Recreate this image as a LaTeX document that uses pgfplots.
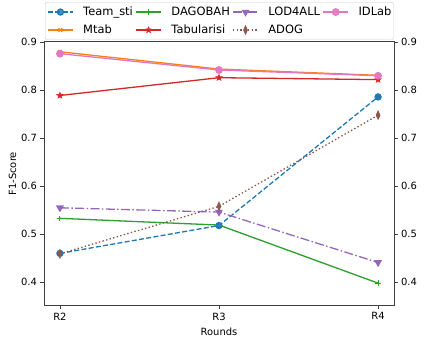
\documentclass[border=0pt]{standalone}
\usepackage{fontspec}
\setmainfont{DejaVu Sans}
\usepackage{pgfplots}
\pgfplotsset{compat=1.18}
\definecolor{c0}{HTML}{1F77B4}
\definecolor{c1}{HTML}{FF7F0E}
\definecolor{c2}{HTML}{2CA02C}
\definecolor{c3}{HTML}{D62728}
\definecolor{c4}{HTML}{9467BD}
\definecolor{c5}{HTML}{8C564B}
\definecolor{c6}{HTML}{E377C2}
\pgfdeclareplotmark{fstar}{%
 \pgfpathmoveto{\pgfpointpolar{90}{\pgfplotmarksize}}%
 \pgfpathlineto{\pgfpointpolar{126}{0.42\pgfplotmarksize}}%
 \pgfpathlineto{\pgfpointpolar{162}{\pgfplotmarksize}}%
 \pgfpathlineto{\pgfpointpolar{198}{0.42\pgfplotmarksize}}%
 \pgfpathlineto{\pgfpointpolar{234}{\pgfplotmarksize}}%
 \pgfpathlineto{\pgfpointpolar{270}{0.42\pgfplotmarksize}}%
 \pgfpathlineto{\pgfpointpolar{306}{\pgfplotmarksize}}%
 \pgfpathlineto{\pgfpointpolar{342}{0.42\pgfplotmarksize}}%
 \pgfpathlineto{\pgfpointpolar{18}{\pgfplotmarksize}}%
 \pgfpathlineto{\pgfpointpolar{54}{0.42\pgfplotmarksize}}%
 \pgfpathclose\pgfusepathqfillstroke}
\pgfplotsset{
 sTeam/.style={color=c0, line width=1.3bp, dash pattern=on 5bp off 2.3bp, mark=*, mark size=3bp, mark options={solid}},
 sMtab/.style={color=c1, line width=1.3bp, solid, mark=x, mark size=2.6bp, mark options={solid, line width=1bp}},
 sDago/.style={color=c2, line width=1.3bp, solid, mark=+, mark size=2.8bp, mark options={solid, line width=1bp}},
 sTab/.style={color=c3, line width=1.3bp, solid, mark=fstar, mark size=3.2bp, mark options={solid, line width=0.6bp}},
 sLod/.style={color=c4, line width=1.3bp, dash pattern=on 9bp off 2.4bp on 1.5bp off 2.4bp, mark=triangle*, mark size=3.3bp, mark options={solid, rotate=180}},
 sAdog/.style={color=c5, line width=1.3bp, dash pattern=on 1.4bp off 2.3bp, mark=diamond*, mark size=3.6bp, mark options={solid, xscale=0.6}},
 sIDL/.style={color=c6, line width=1.3bp, solid, mark=*, mark size=3.2bp, mark options={solid}},
 base/.style={
  scale only axis, width=350bp, height=264bp,
  xmin=-0.1, xmax=2.1, ymin=0.351, ymax=0.901,
  axis line style={black!75, line width=0.8bp},
  tick style={black!75, line width=0.8bp},
  tick align=outside, major tick length=3.5bp,
  ytick={0.4,0.5,0.6,0.7,0.8,0.9},
  yticklabels={0.4,0.5,0.6,0.7,0.8,0.9},
  ticklabel style={font=\fontsize{10}{12}\selectfont},
  /pgf/number format/assume math mode=true,
 },
}
\begin{document}
\begin{tikzpicture}
\begin{axis}[base,
  xtick={0,1,2}, xticklabels={R2,R3,R4}, xtick pos=bottom,
  ytick pos=left,
  xlabel={Rounds}, ylabel={F1-Score},
  label style={font=\fontsize{10}{12}\selectfont},
  xlabel style={at={(axis description cs:0.5,-0.0985)}, anchor=center},
  ylabel style={at={(axis description cs:-0.09,0.5)}, anchor=center},
  legend columns=4,
  legend image code/.code={\draw[mark repeat=2,mark phase=2,#1] plot coordinates {(0bp,0bp) (12.5bp,0bp) (25bp,0bp)};},
  legend style={at={(axis description cs:0.003,1.150)}, anchor=north west,
    draw=black!20, rounded corners=2bp, fill=white, fill opacity=0.8, text opacity=1,
    font=\fontsize{11.5}{13}\selectfont,
    inner xsep=2bp, inner ysep=3bp,
    nodes={inner sep=0pt, text height=10bp, text depth=3.5bp, anchor=west},
    row sep=4.5bp,
    /tikz/every odd column/.append style={column sep=9.7bp},
    /tikz/every even column/.append style={column sep=2.5bp}},
]
\addplot[sTeam, forget plot] coordinates {(0,0.460) (1,0.518) (2,0.786)};
\addplot[sMtab, forget plot] coordinates {(0,0.880) (1,0.844) (2,0.831)};
\addplot[sDago, forget plot] coordinates {(0,0.533) (1,0.519) (2,0.398)};
\addplot[sTab, forget plot] coordinates {(0,0.789) (1,0.826) (2,0.822)};
\addplot[sLod, forget plot] coordinates {(0,0.555) (1,0.546) (2,0.441)};
\addplot[sAdog, forget plot] coordinates {(0,0.459) (1,0.558) (2,0.748)};
\addplot[sIDL, forget plot] coordinates {(0,0.876) (1,0.842) (2,0.830)};
\addlegendimage{sTeam}\addlegendentry{Team\_sti}
\addlegendimage{sDago}\addlegendentry{DAGOBAH}
\addlegendimage{sLod}\addlegendentry{LOD4ALL}
\addlegendimage{sIDL}\addlegendentry{IDLab\hspace{12bp}}
\addlegendimage{sMtab}\addlegendentry{Mtab}
\addlegendimage{sTab}\addlegendentry{Tabularisi}
\addlegendimage{sAdog}\addlegendentry{ADOG}
\end{axis}
\begin{axis}[base,
  axis x line=none, axis y line*=right,
  ytick pos=right, yticklabel pos=right,
]
\end{axis}
\pgfresetboundingbox
\useasboundingbox (-44bp,-33.3bp) rectangle (383bp,305.7bp);
\end{tikzpicture}
\end{document}
